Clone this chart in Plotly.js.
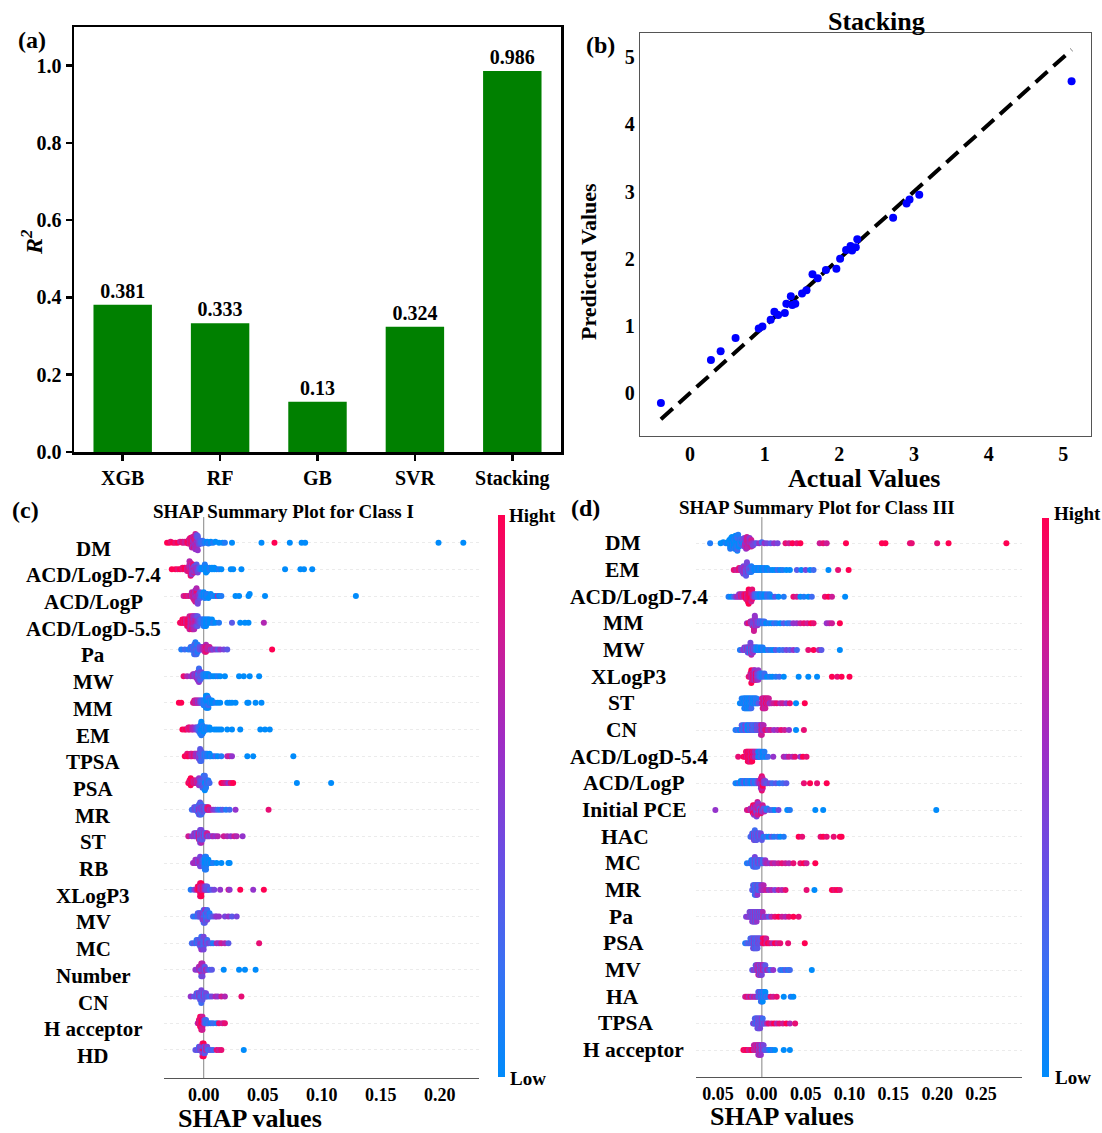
<!DOCTYPE html>
<html><head><meta charset="utf-8">
<script src="https://cdn.plot.ly/plotly-3.0.1.min.js"></script>
<style>html,body{margin:0;padding:0;background:#fff}</style>
</head><body><div id="chart" style="width:1102px;height:1133px"></div>
<script>
// ---------- Panel (a): R2 of models ----------
const models = ['XGB','RF','GB','SVR','Stacking'];
const r2 = [0.381,0.333,0.13,0.324,0.986];

// ---------- Panel (b): Stacking actual vs predicted ----------
const actual =    [-0.39,0.28,0.41,0.61,0.92,0.97,1.08,1.13,1.18,1.27,1.29,1.35,1.41,1.37,1.50,1.56,1.64,1.71,1.82,1.96,2.01,2.09,2.15,2.17,2.22,2.24,2.72,2.90,2.94,3.07,5.11];
const predicted = [-0.15,0.49,0.62,0.82,0.96,0.99,1.09,1.21,1.16,1.19,1.33,1.44,1.33,1.31,1.48,1.53,1.77,1.71,1.83,1.85,2.00,2.13,2.19,2.12,2.17,2.29,2.61,2.82,2.88,2.95,4.64];

// ---------- Panel (c): SHAP, Class I   entries: [shap value, feature level 0(low)..9(high), number of samples] ----------
const featuresC = ['DM','ACD/LogD-7.4','ACD/LogP','ACD/LogD-5.5','Pa','MW','MM','EM','TPSA','PSA','MR','ST','RB','XLogP3','MV','MC','Number','CN','H acceptor','HD'];
const pointsC = [
 [[-.031,9],[-.029,9],[-.028,8],[-.026,9],[-.024,8],[-.022,9],[-.020,7],[-.018,8,2],[-.016,7,2],[-.014,8,2],[-.013,9,2],[-.012,7,3],[-.011,8,3],[-.010,6,3],[-.010,8,2],[-.009,7,4],[-.009,5,2],[-.008,6,4],[-.008,8,2],[-.007,5,4],[-.007,7,3],[-.006,4,3],[-.006,6,3],[-.005,5,3],[-.005,3,2],[-.004,4,3],[-.003,3,2],[-.002,2,2],[-.001,2,2],[.001,1,2],[.003,0,2],[.004,1],[.006,0,2],[.008,1],[.010,0],[.013,0],[.016,0],[.018,1],[.024,0],[.049,0],[.060,9],[.073,0],[.083,0],[.086,0],[.199,0],[.220,0]],
 [[-.027,9],[-.024,9],[-.022,8],[-.020,9],[-.018,8,2],[-.016,9,2],[-.014,7,3],[-.013,8,3],[-.012,6,4],[-.011,7,4],[-.011,8,2],[-.010,6,4],[-.010,5,3],[-.009,8,3],[-.009,5,3],[-.008,7,3],[-.008,4,2],[-.007,6,3],[-.006,3,2],[-.006,5,2],[-.005,4,2],[-.004,3,2],[-.003,2,2],[-.002,1,2],[-.001,0,2],[.001,1,3],[.002,0,3],[.003,0,3],[.005,1,2],[.007,0,2],[.009,0,2],[.011,0],[.013,1],[.015,0],[.023,0],[.025,0],[.032,0],[.069,0],[.082,0],[.085,0],[.092,0]],
 [[-.017,7],[-.015,8],[-.013,7],[-.011,8],[-.010,6,2],[-.009,7,2],[-.008,8,3],[-.008,6,2],[-.007,7,4],[-.007,5,3],[-.006,8,3],[-.006,6,2],[-.005,6,2],[-.005,4,2],[-.004,5,2],[-.003,3,2],[-.002,2,2],[-.001,1,2],[.000,0,2],[.001,1,2],[.002,0,2],[.003,1,2],[.004,0],[.006,0,2],[.008,1],[.010,0],[.012,6],[.013,0],[.015,1],[.027,0],[.030,0],[.038,0],[.039,0],[.052,0],[.129,0]],
 [[-.020,9],[-.019,8],[-.018,9,2],[-.017,8,2],[-.016,9,2],[-.015,7,2],[-.014,8,3],[-.013,9,3],[-.012,7,3],[-.012,8,2],[-.011,6,3],[-.010,7,3],[-.010,8,2],[-.009,6,3],[-.009,7,2],[-.008,5,3],[-.008,6,2],[-.007,7,2],[-.007,5,2],[-.006,6,2],[-.006,4,2],[-.005,5,2],[-.005,3,2],[-.004,4,2],[-.003,3,2],[-.002,2,2],[-.001,2,2],[.000,1,3],[.001,1,3],[.002,0,3],[.003,0,2],[.004,1,2],[.005,0,2],[.007,0,2],[.008,1],[.010,0],[.013,1],[.024,3],[.031,0],[.035,0],[.038,0],[.051,6]],
 [[-.019,1],[-.016,2],[-.013,1],[-.011,2,2],[-.010,1,2],[-.009,3,2],[-.008,1,3],[-.008,2,2],[-.007,1,3],[-.007,3,3],[-.006,1,3],[-.006,2,2],[-.005,3,2],[-.005,1,2],[-.004,2,2],[-.003,4,2],[-.002,3,2],[-.001,5,2],[.000,6,2],[.001,7,3],[.002,6,2],[.002,8,2],[.003,7,2],[.004,6,2],[.005,7,2],[.006,5],[.007,6],[.008,4],[.010,5],[.012,3],[.014,5],[.017,4],[.020,3],[.058,9]],
 [[-.017,8],[-.014,6],[-.011,5],[-.009,6,2],[-.008,5,2],[-.007,4,2],[-.006,6,3],[-.005,5,3],[-.005,3,2],[-.004,5,3],[-.004,4,3],[-.004,2,2],[-.003,4,3],[-.003,3,2],[-.002,2,2],[-.002,4,2],[-.001,2,2],[.000,1,2],[.001,1,2],[.002,0,2],[.003,1,2],[.004,0,2],[.005,0],[.006,1],[.008,0],[.010,0],[.012,1],[.014,0],[.018,0],[.030,0],[.034,0],[.039,0],[.047,0]],
 [[-.021,9],[-.019,9],[-.009,7],[-.008,8,2],[-.007,6,2],[-.006,7,2],[-.005,5,2],[-.004,6,2],[-.003,4,2],[-.002,3,2],[-.001,2,2],[.000,1,3],[.001,1,3],[.002,0,4],[.002,1,2],[.003,0,4],[.003,1,2],[.004,0,3],[.004,2,2],[.005,0,2],[.006,1,2],[.007,0,2],[.008,0],[.010,1],[.012,0],[.014,0],[.020,0],[.022,0],[.024,0],[.027,0],[.037,0],[.038,0],[.044,0],[.049,0]],
 [[-.018,9],[-.016,8],[-.015,9],[-.013,7,2],[-.012,8,2],[-.010,7,2],[-.009,6,2],[-.007,5,2],[-.006,4,2],[-.005,3,2],[-.004,2,3],[-.003,3,2],[-.003,1,3],[-.002,2,2],[-.002,0,4],[-.002,1,2],[-.001,0,3],[-.001,1,2],[.000,0,3],[.001,1,2],[.002,0,2],[.003,1,2],[.005,0,2],[.006,0],[.009,0],[.011,0],[.013,0],[.015,0],[.020,0],[.024,0],[.031,0],[.048,0],[.052,0],[.056,0]],
 [[-.016,9],[-.014,8,2],[-.013,9],[-.011,8,2],[-.010,7,2],[-.008,8,2],[-.007,6,2],[-.006,5,2],[-.005,6,2],[-.004,4,3],[-.003,5,3],[-.003,3,3],[-.002,3,3],[-.002,2,2],[-.001,3,2],[.000,2,2],[.001,1,2],[.002,2,2],[.003,1,2],[.005,0,2],[.006,1],[.008,0],[.010,2],[.012,0],[.015,1],[.020,6],[.022,7],[.024,5],[.037,0],[.042,0],[.076,0]],
 [[-.013,9],[-.012,8,2],[-.011,9,2],[-.010,9,2],[-.009,8,2],[-.008,7,2],[-.007,8,2],[-.006,6,2],[-.005,7,2],[-.004,5,2],[-.003,4,2],[-.002,3,2],[-.001,2,3],[-.001,4,2],[.000,1,3],[.000,3,3],[.001,2,3],[.001,0,2],[.002,1,2],[.003,3,2],[.004,1,2],[.005,2],[.015,9],[.017,8],[.019,7],[.021,5],[.023,8],[.025,9],[.079,0],[.108,0]],
 [[-.010,2],[-.008,3,2],[-.007,4,2],[-.006,2,2],[-.005,3,3],[-.004,5,3],[-.004,2,2],[-.003,4,3],[-.003,3,3],[-.002,2,3],[-.002,5,2],[-.001,3,3],[.000,4,2],[.001,3,2],[.002,2,2],[.003,7,2],[.004,8,2],[.005,6],[.006,7],[.008,5],[.010,4],[.012,2],[.014,1],[.016,3],[.019,1],[.022,2],[.027,5],[.055,8]],
 [[-.013,7],[-.010,5],[-.008,4,2],[-.007,6,2],[-.006,3,2],[-.005,5,2],[-.004,7,3],[-.003,4,3],[-.003,2,2],[-.002,6,3],[-.002,4,2],[-.001,3,3],[.000,5,2],[.001,2,2],[.002,4,2],[.003,7,2],[.004,3],[.005,5],[.007,4],[.008,6],[.010,5],[.012,6],[.017,7],[.020,6],[.023,5],[.026,7],[.028,6],[.033,5]],
 [[-.009,5],[-.008,6],[-.007,5,2],[-.006,6,2],[-.005,4,2],[-.004,5,2],[-.003,6,2],[-.003,4,2],[-.002,5,2],[-.001,3,2],[.000,2,3],[.001,1,3],[.001,0,2],[.002,1,3],[.002,0,2],[.003,1,2],[.004,0,2],[.005,1],[.006,0],[.008,1],[.011,0],[.015,0],[.021,0],[.022,0]],
 [[-.011,1],[-.008,4],[-.006,7],[-.005,8,2],[-.004,9,2],[-.003,8,3],[-.003,7,2],[-.002,9,3],[-.002,6,2],[-.001,8,2],[.000,7,2],[.001,5,2],[.002,4,2],[.003,3,2],[.004,4],[.005,2],[.007,3],[.009,4],[.014,5],[.021,7],[.022,5],[.031,9],[.042,5],[.051,9]],
 [[-.009,2],[-.007,1],[-.005,3,2],[-.004,2,2],[-.003,4,2],[-.002,3,2],[-.001,5,3],[.000,2,3],[.000,4,2],[.001,3,3],[.001,5,2],[.002,1,3],[.003,4,2],[.003,2,2],[.004,3,2],[.005,1,2],[.006,2],[.008,3],[.010,4],[.011,5],[.013,5],[.018,4],[.021,5],[.024,3],[.028,4]],
 [[-.010,2],[-.008,3],[-.006,1,2],[-.005,3,2],[-.004,2,2],[-.003,4,3],[-.002,2,3],[-.002,5,2],[-.001,3,3],[.000,2,3],[.000,4,2],[.001,3,2],[.002,5,2],[.003,2,2],[.004,4],[.006,3],[.008,1],[.011,6],[.013,5],[.015,7],[.018,6],[.021,3],[.047,8]],
 [[-.007,5],[-.005,4],[-.004,6,2],[-.003,5,2],[-.002,7,3],[-.002,3,2],[-.001,6,3],[-.001,4,2],[.000,5,2],[.001,3,2],[.002,7],[.003,4],[.005,2],[.007,3],[.017,0],[.030,0],[.035,0],[.044,0]],
 [[-.011,5],[-.008,3],[-.006,4,2],[-.005,2,2],[-.004,5,2],[-.003,3,3],[-.002,4,3],[-.002,2,2],[-.001,3,3],[.000,5,2],[.001,2,2],[.002,4,2],[.003,3],[.005,2],[.007,4],[.010,6],[.012,5],[.015,7],[.018,6],[.032,8]],
 [[-.005,6],[-.004,8,2],[-.003,9,2],[-.003,7,2],[-.002,8,3],[-.002,9,2],[-.001,7,3],[-.001,9,2],[.000,6,2],[.001,3,2],[.002,2,2],[.003,1],[.004,2],[.006,1],[.008,2],[.011,1],[.013,8],[.016,7],[.018,8]],
 [[-.007,3],[-.005,4],[-.004,2,2],[-.003,5,2],[-.002,3,2],[-.001,8,3],[-.001,4,2],[.000,9,3],[.000,5,2],[.001,3,3],[.002,7,2],[.003,4,2],[.004,2],[.006,3],[.008,2],[.011,8],[.013,7],[.015,8],[.034,0]]
];

// ---------- Panel (d): SHAP, Class III ----------
const featuresD = ['DM','EM','ACD/LogD-7.4','MM','MW','XLogP3','ST','CN','ACD/LogD-5.4','ACD/LogP','Initial PCE','HAC','MC','MR','Pa','PSA','MV','HA','TPSA','H acceptor'];
const pointsD = [
 [[-.059,1],[-.047,0],[-.044,0],[-.041,1],[-.039,0,2],[-.037,0,2],[-.036,1,3],[-.035,0,3],[-.034,0,4],[-.033,1,4],[-.032,0,4],[-.031,2,3],[-.030,0,4],[-.029,1,4],[-.028,0,3],[-.028,2,2],[-.027,1,3],[-.026,0,3],[-.025,1,3],[-.024,2,2],[-.023,0,2],[-.022,3,2],[-.021,1,2],[-.020,4,2],[-.019,6,3],[-.018,5,3],[-.017,7,4],[-.016,6,4],[-.015,7,3],[-.014,5,3],[-.013,6,2],[-.012,7,2],[-.011,5,2],[-.010,4],[-.008,4],[-.006,3],[-.003,5],[.000,2],[.003,5],[.006,4],[.010,3],[.014,5],[.018,4],[.027,8],[.031,7],[.035,9],[.040,8],[.044,9],[.066,7],[.070,8],[.074,7],[.096,9],[.137,9],[.141,9],[.169,8],[.171,8],[.200,8],[.213,9],[.279,9]],
 [[-.032,8],[-.029,7],[-.026,8,2],[-.024,6,2],[-.022,5,2],[-.021,4,3],[-.020,6,3],[-.019,5,3],[-.018,3,4],[-.017,4,4],[-.016,5,3],[-.015,3,3],[-.014,2,3],[-.013,4,2],[-.012,1,2],[-.011,2,2],[-.010,1,2],[-.008,0,2],[-.006,1,2],[-.004,0,2],[-.002,1,2],[.000,0,2],[.003,1,2],[.006,0,2],[.009,1],[.012,0],[.015,0],[.018,2],[.021,0],[.024,1],[.028,0],[.032,0],[.040,3],[.045,0],[.050,4],[.055,0],[.059,2],[.076,0],[.087,8],[.099,9]],
 [[-.038,1],[-.035,0],[-.032,2],[-.030,4],[-.028,6],[-.026,5,2],[-.024,7,2],[-.022,6,2],[-.020,8,2],[-.018,9,3],[-.017,7,3],[-.016,8,3],[-.015,9,4],[-.014,8,4],[-.013,9,4],[-.012,7,3],[-.011,8,3],[-.010,6,2],[-.009,5,2],[-.008,3,2],[-.006,2,2],[-.004,1,2],[-.002,0,2],[.000,1,2],[.003,0,2],[.006,2,2],[.009,1,2],[.012,0],[.015,3],[.019,0],[.025,1],[.036,8],[.040,7],[.044,0],[.048,1],[.053,0],[.057,2],[.072,8],[.076,9],[.080,7],[.095,0]],
 [[-.017,6],[-.015,8],[-.013,7,2],[-.012,5,2],[-.011,6,3],[-.010,4,3],[-.009,7,3],[-.008,5,4],[-.008,3,2],[-.007,6,3],[-.006,4,3],[-.005,5,3],[-.004,3,2],[-.003,4,2],[-.002,2,2],[-.001,3,2],[.001,1,2],[.003,2,2],[.005,0],[.008,1],[.011,0],[.014,2],[.017,1],[.021,0],[.025,3],[.029,1],[.032,2],[.036,5],[.040,5],[.044,7],[.048,8],[.052,7],[.056,9],[.059,8],[.074,5],[.077,6],[.080,7],[.089,9]],
 [[-.025,1],[-.022,4],[-.020,5,2],[-.018,2,2],[-.017,6,2],[-.016,3,3],[-.015,5,3],[-.014,1,3],[-.013,4,3],[-.012,6,3],[-.011,2,3],[-.010,5,3],[-.009,3,2],[-.008,4,2],[-.007,1,2],[-.006,2,2],[-.005,0,2],[-.003,1,2],[-.001,0,2],[.001,1,2],[.004,0],[.007,2],[.010,1],[.013,0],[.016,3],[.020,1],[.024,2],[.028,4],[.032,3],[.036,5],[.040,2],[.053,8],[.059,9],[.065,6],[.068,3],[.089,0]],
 [[-.015,8],[-.013,7,2],[-.012,9,2],[-.011,6,3],[-.010,8,3],[-.009,7,4],[-.008,5,4],[-.007,9,3],[-.006,6,3],[-.005,4,2],[-.004,5,2],[-.003,3,2],[-.002,2,2],[.000,1,2],[.003,2,2],[.006,0],[.009,1],[.012,0],[.016,1],[.020,2],[.025,0],[.042,0],[.053,0],[.063,0],[.080,9],[.086,8],[.091,9],[.100,9]],
 [[-.025,0],[-.023,1,2],[-.021,0,2],[-.020,1,3],[-.019,0,3],[-.018,2,3],[-.017,0,3],[-.016,1,3],[-.015,0,3],[-.014,1,3],[-.013,0,3],[-.012,2,3],[-.011,1,2],[-.010,0,2],[-.009,1,2],[-.008,0,2],[-.007,2,2],[-.006,1,2],[-.005,0],[-.004,3],[.000,6,2],[.001,7,3],[.002,8,3],[.003,6,3],[.004,7,3],[.005,9,2],[.006,6,2],[.007,8,2],[.008,7,2],[.009,5],[.011,6],[.014,7],[.017,8],[.021,6],[.024,7],[.028,5],[.032,8],[.039,0],[.049,9]],
 [[-.030,1],[-.027,2],[-.025,0],[-.023,3,2],[-.021,1,2],[-.019,4,2],[-.017,2,2],[-.016,0,2],[-.014,3,2],[-.013,1,2],[-.011,4,2],[-.010,2,2],[-.008,3,2],[-.007,1,2],[-.006,4,2],[-.004,2,2],[-.003,5,2],[-.002,3,2],[-.001,6,3],[.000,7,3],[.001,5,2],[.002,6,2],[.004,8],[.007,6],[.010,7],[.014,5],[.018,6],[.022,8],[.026,7],[.031,5],[.039,0],[.048,8]],
 [[-.027,8],[-.021,9],[-.019,8],[-.018,9,2],[-.017,7,2],[-.016,9,3],[-.015,8,3],[-.014,9,3],[-.013,7,3],[-.012,8,3],[-.011,9,3],[-.010,7,2],[-.009,8,2],[-.008,6,2],[-.007,5,2],[-.006,7,2],[-.005,4,2],[-.004,1,2],[-.003,0,2],[-.002,1,2],[-.001,2,2],[.001,0,2],[.003,1,2],[.005,0],[.007,2],[.013,5],[.025,6],[.028,5],[.031,7],[.035,6],[.038,8],[.044,5],[.047,9],[.051,8]],
 [[-.030,1],[-.028,0],[-.026,2],[-.024,0,2],[-.022,1,2],[-.020,3,2],[-.018,0,2],[-.016,2,2],[-.014,1,2],[-.012,0,2],[-.010,3,2],[-.008,1,2],[-.006,2,2],[-.004,4,2],[-.003,5,2],[-.002,6,2],[-.001,7,3],[-.001,5,2],[.000,8,4],[.000,6,3],[.001,7,3],[.001,9,2],[.002,5,2],[.004,4,2],[.006,3],[.009,4],[.012,2],[.016,3],[.020,1],[.024,2],[.028,3],[.048,8],[.055,9],[.063,8],[.074,9]],
 [[-.053,5],[-.017,7],[-.015,8],[-.013,6,2],[-.011,7,2],[-.010,9,2],[-.009,5,3],[-.008,8,3],[-.007,6,3],[-.006,4,4],[-.005,7,3],[-.004,5,3],[-.003,6,2],[-.002,3,2],[-.001,8,2],[.000,5,2],[.001,7,2],[.002,3,2],[.003,6],[.005,2],[.006,1],[.009,3],[.012,2],[.015,0],[.019,4],[.029,0],[.032,1],[.061,0],[.070,0],[.199,0]],
 [[-.013,2],[-.011,3,2],[-.010,1,2],[-.009,5,3],[-.008,2,4],[-.007,4,3],[-.006,3,3],[-.005,1,2],[-.004,5,2],[-.003,3,2],[-.002,2,2],[-.001,4,2],[.000,3],[.002,1],[.005,2],[.008,0],[.011,3],[.014,1],[.018,2],[.021,0],[.025,1],[.042,9],[.046,8],[.067,8],[.070,9],[.074,8],[.082,8],[.089,9],[.091,9]],
 [[-.017,1],[-.014,2],[-.012,0,2],[-.011,3,2],[-.010,1,3],[-.009,2,3],[-.008,4,4],[-.007,1,3],[-.006,3,3],[-.005,2,3],[-.004,5,2],[-.003,3,2],[-.002,1,2],[-.001,4,2],[.001,2,2],[.004,5,2],[.006,6],[.009,5],[.012,7],[.015,6],[.019,7],[.023,8],[.027,7],[.031,6],[.036,8],[.044,8],[.048,9],[.051,7],[.061,9]],
 [[-.011,3],[-.010,2,2],[-.009,4,2],[-.008,1,3],[-.007,3,3],[-.006,2,3],[-.005,5,3],[-.004,1,2],[-.003,3,2],[-.002,2,2],[-.001,4,2],[.000,5,2],[.002,6,2],[.005,7],[.008,5],[.011,6],[.015,4],[.019,7],[.023,6],[.027,8],[.051,8],[.060,0],[.080,9],[.083,8],[.086,9],[.089,8]],
 [[-.018,4],[-.016,5],[-.014,3,2],[-.013,6,2],[-.012,2,2],[-.011,5,3],[-.010,4,3],[-.009,3,3],[-.008,6,3],[-.007,2,3],[-.006,5,3],[-.005,4,2],[-.004,3,2],[-.003,6,2],[-.002,2,2],[-.001,5,2],[.000,3,2],[.001,6,2],[.003,4],[.005,5],[.008,3],[.011,6],[.015,8],[.019,9],[.023,7],[.027,6],[.031,8],[.036,9],[.042,8]],
 [[-.019,1],[-.017,2],[-.015,3],[-.013,1,2],[-.012,4,2],[-.011,2,2],[-.010,3,3],[-.009,5,3],[-.008,1,3],[-.007,4,3],[-.006,2,3],[-.005,3,3],[-.004,5,2],[-.003,2,2],[-.002,4,2],[-.001,3,2],[.001,8,2],[.003,9,2],[.005,7,2],[.007,9],[.009,8],[.012,6],[.015,9],[.018,7],[.021,8],[.030,8],[.049,9]],
 [[-.011,3],[-.009,5],[-.007,2,2],[-.006,6,2],[-.005,4,2],[-.004,7,3],[-.003,5,3],[-.002,3,3],[-.001,6,3],[.000,4,3],[.001,7,2],[.002,5,2],[.004,3,2],[.006,6],[.008,4],[.010,2],[.013,5],[.021,2],[.024,1],[.027,3],[.030,1],[.032,2],[.057,0]],
 [[-.019,7],[-.017,8],[-.015,6],[-.013,8],[-.011,5],[-.009,7],[-.007,4],[-.006,6],[-.004,3,2],[-.003,2,2],[-.002,4,2],[-.001,1,3],[.000,3,3],[.001,0,3],[.002,2,2],[.003,1,2],[.004,0,2],[.005,2],[.007,1],[.010,8],[.013,7],[.017,8],[.025,0],[.033,1],[.036,0]],
 [[-.010,3],[-.009,5],[-.008,2,2],[-.007,4,2],[-.006,1,2],[-.005,3,3],[-.004,5,3],[-.003,2,3],[-.002,4,3],[-.001,3,2],[.000,5,2],[.001,2,2],[.002,4],[.004,3],[.006,6],[.008,8],[.011,7],[.014,9],[.017,6],[.020,8],[.024,7],[.028,9],[.032,6],[.038,8]],
 [[-.021,9],[-.019,8],[-.017,9],[-.015,7],[-.013,8],[-.011,9],[-.009,6,2],[-.008,7,2],[-.006,5,2],[-.005,8,2],[-.004,6,3],[-.003,4,3],[-.002,7,3],[-.001,5,3],[.000,3,2],[.001,6,2],[.002,4,2],[.004,2],[.006,3],[.008,1],[.010,0],[.012,1],[.015,0],[.025,0],[.032,0]]
];

const rowTicksC = featuresC.map((_, i) => i);
const rowTicksD = featuresD.map((_, i) => i);
const shapTicksC = [0, 0.05, 0.10, 0.15, 0.20];
const shapTextC = ['0.00','0.05','0.10','0.15','0.20'];
const shapTicksD = [-0.05, 0, 0.05, 0.10, 0.15, 0.20, 0.25];
const shapTextD = ['0.05','0.00','0.05','0.10','0.15','0.20','0.25'];

// ---------- helpers ----------
const W = 1102, H = 1133;
const px = v => v / W, py = v => 1 - v / H;
const SERIF = '"Liberation Serif", "Times New Roman", serif';
const bf = (size, color) => ({family: SERIF, size: size, color: color || '#000', weight: 'bold'});
const shapScale = [[0,'#008bfb'],[0.2,'#3a6ff3'],[0.4,'#6b4ce3'],[0.6,'#a02cc4'],[0.8,'#d3198f'],[1,'#ff0052']];
const ctx = document.createElement('canvas').getContext('2d');
function textWidth(t, size) { ctx.font = 'bold ' + size + 'px "Liberation Serif"'; return ctx.measureText(t).width; }

// SHAP-style beeswarm offsets (binned stacking, pseudo-random order inside a bin)
function swarm(vals) {
  const mn = Math.min(...vals), mx = Math.max(...vals), nb = 100;
  const q = vals.map(v => Math.round(nb * (v - mn) / (mx - mn + 1e-8)));
  const key = vals.map((_, i) => (i * 2654435761) % 9973);
  const idx = vals.map((_, i) => i).sort((a, b) => q[a] - q[b] || key[a] - key[b]);
  const ys = new Array(vals.length).fill(0);
  let layer = 0, last = -1;
  for (const i of idx) {
    if (q[i] !== last) layer = 0;
    ys[i] = Math.ceil(layer / 2) * ((layer % 2) * 2 - 1);
    layer++; last = q[i];
  }
  const m = Math.max(...ys) + 1;
  return ys.map(y => y * 0.9 * 0.4 / m);
}
function expand(pts) {
  const out = [];
  pts.forEach(p => { const n = p[2] || 1; for (let k = 0; k < n; k++) out.push([p[0], p[1]]); });
  return out;
}
function beeswarm(points, xa, ya, cbX, cbTop, cbBot) {
  const xs = [], ys = [], cs = [];
  points.forEach((raw, row) => {
    const pts = expand(raw);
    const off = swarm(pts.map(p => p[0]));
    pts.forEach((p, k) => { xs.push(p[0]); ys.push(row - off[k]); cs.push(p[1] / 9); });
  });
  return {type: 'scatter', mode: 'markers', x: xs, y: ys, xaxis: xa, yaxis: ya, hoverinfo: 'skip',
    marker: {size: 6, color: cs, cmin: 0, cmax: 1, colorscale: shapScale, showscale: true, line: {width: 0},
      colorbar: {x: px(cbX), xanchor: 'left', xref: 'paper', y: py(cbTop), yanchor: 'top', yref: 'paper',
        len: (cbBot - cbTop) / H, lenmode: 'fraction', thickness: 7, thicknessmode: 'pixels',
        outlinewidth: 0, ticks: '', showticklabels: false, xpad: 0, ypad: 0}}};
}

const lineMin = Math.min(...actual), lineMax = Math.max(...actual);

const traces = [
  {type: 'bar', x: models, y: r2, xaxis: 'x', yaxis: 'y', width: 0.6, marker: {color: '#008000'},
   text: r2.map(String), textposition: 'outside', textfont: bf(20), cliponaxis: false, hoverinfo: 'skip'},
  {type: 'scatter', mode: 'lines', x: [lineMin, lineMax], y: [lineMin, lineMax], xaxis: 'x2', yaxis: 'y2',
   line: {color: '#000', width: 4, dash: '16px,8px'}, hoverinfo: 'skip'},
  {type: 'scatter', mode: 'markers', x: actual, y: predicted, xaxis: 'x2', yaxis: 'y2',
   marker: {color: '#0000ff', size: 8}, hoverinfo: 'skip'},
  beeswarm(pointsC, 'x3', 'y3', 498, 515, 1077),
  beeswarm(pointsD, 'x4', 'y4', 1042, 518, 1077)
];

const ann = [];
const A = (text, x, y, font, opts) => ann.push(Object.assign({text, x: px(x), y: py(y), xref: 'paper', yref: 'paper',
  showarrow: false, font, xanchor: 'center', yanchor: 'middle'}, opts || {}));
A('(a)', 32, 40, bf(24));
A('<i>R<sup>2</sup></i>', 32, 243, bf(24), {textangle: -90});
A('(b)', 600, 45, bf(24));
A('Stacking', 876, 22, bf(26));
A('Predicted Values', 588, 262, bf(22), {textangle: -90});
A('Actual Values', 864, 479, bf(26));
A('(c)', 25, 510, bf(24));
A('SHAP Summary Plot for Class I', 283, 512, bf(19));
A('SHAP values', 250, 1118, bf(26));
A('Hight', 507, 515, bf(19), {xanchor: 'left'});
A('Low', 508, 1078, bf(19), {xanchor: 'left'});
A('(d)', 585, 508, bf(24));
A('SHAP Summary Plot for Class III', 817, 507, bf(19));
A('SHAP values', 782, 1116, bf(26));
A('Hight', 1052, 513, bf(19), {xanchor: 'left'});
A('Low', 1053, 1077, bf(19), {xanchor: 'left'});
featuresC.forEach((f, i) => ann.push({text: f, x: px(93), xref: 'paper', y: i, yref: 'y3', yshift: -6,
  showarrow: false, font: bf(21), xanchor: 'center', yanchor: 'middle'}));
featuresD.forEach((f, i) => ann.push({text: f, x: px(617 + 0.163 * textWidth(f, 21.5)), xref: 'paper', y: i, yref: 'y4', yshift: 0,
  showarrow: false, font: bf(21.5), xanchor: 'center', yanchor: 'middle'}));

const shapes = [
  {type: 'line', xref: 'x3', yref: 'paper', x0: 0, x1: 0, y0: py(1078), y1: py(517), line: {color: '#999', width: 1.2}, layer: 'below'},
  {type: 'line', xref: 'x4', yref: 'paper', x0: 0, x1: 0, y0: py(1077), y1: py(517), line: {color: '#999', width: 1.2}, layer: 'below'}
];

const axBlack = {showline: true, linecolor: '#000', linewidth: 2.5, mirror: true, ticks: 'outside', ticklen: 6,
  tickwidth: 2.5, tickcolor: '#000', showgrid: false, zeroline: false, tickfont: bf(20)};
const axGray = {showline: true, linecolor: '#555', linewidth: 1.2, mirror: true, ticks: '', showgrid: false,
  zeroline: false, tickfont: bf(20), dtick: 1};
const shapX = {showline: true, linecolor: '#555', linewidth: 1.2, ticks: '', showgrid: false, zeroline: false, tickfont: bf(18)};
const shapY = {showline: false, showticklabels: false, ticks: '', showgrid: true, gridcolor: '#ebebeb', griddash: 'dot', gridwidth: 1, zeroline: false};

const layout = {
  width: W, height: H, margin: {l: 0, r: 0, t: 0, b: 0}, paper_bgcolor: '#fff', plot_bgcolor: 'rgba(0,0,0,0)',
  showlegend: false, font: {family: SERIF},
  xaxis: Object.assign({}, axBlack, {domain: [px(74), px(561)], range: [-0.5, 4.5], anchor: 'y', type: 'category'}),
  yaxis: Object.assign({}, axBlack, {domain: [py(452), py(27)], range: [0, 1.1], dtick: 0.2, tickformat: '.1f', anchor: 'x'}),
  xaxis2: Object.assign({}, axGray, {domain: [px(640), px(1091)], range: [-0.67, 5.37], anchor: 'y2'}),
  yaxis2: Object.assign({}, axGray, {domain: [py(436), py(33)], range: [-0.64, 5.36], anchor: 'x2'}),
  xaxis3: Object.assign({}, shapX, {domain: [px(164), px(479)], range: [-0.0336, 0.2333], anchor: 'y3', tickvals: shapTicksC, ticktext: shapTextC}),
  yaxis3: Object.assign({}, shapY, {domain: [py(1078), py(517)], range: [20.05, -0.96], anchor: 'x3', tickvals: rowTicksC}),
  xaxis4: Object.assign({}, shapX, {domain: [px(696), px(1022)], range: [-0.0751, 0.2968], anchor: 'y4', tickvals: shapTicksD, ticktext: shapTextD}),
  yaxis4: Object.assign({}, shapY, {domain: [py(1077), py(517)], range: [20.01, -0.986], anchor: 'x4', tickvals: rowTicksD}),
  annotations: ann, shapes: shapes
};

Plotly.newPlot('chart', traces, layout, {displayModeBar: false, staticPlot: true});
</script></body></html>
